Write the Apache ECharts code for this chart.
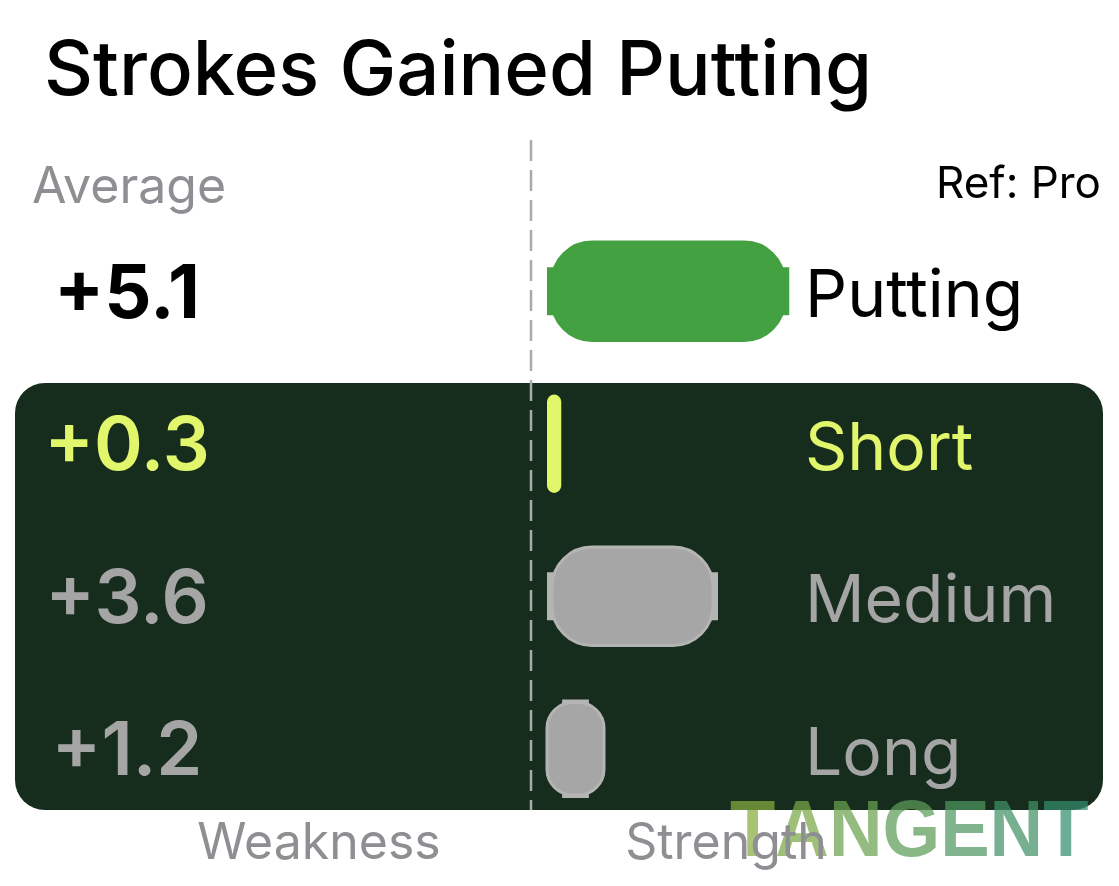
<!DOCTYPE html>
<html>
<head>
<meta charset="utf-8">
<script src="https://cdn.jsdelivr.net/npm/echarts@6/dist/echarts.min.js"></script>
<style>
  html, body { margin: 0; padding: 0; background: #fff; }
  #main { width: 1119px; height: 886px; }
</style>
</head>
<body>
<div id="main"></div>
<script>
const categories = ["Putting", "Short", "Medium", "Long"];
const values = [5.1, 0.3, 3.6, 1.2];
const valueLabels = ["+5.1", "+0.3", "+3.6", "+1.2"];
const barColors = ["#43a142", "#e1f66b", "#a6a6a6", "#a6a6a6"];
const textColors = ["#000000", "#e1f66b", "#a5a5a5", "#a5a5a5"];

const FONT = "Inter, 'Noto Sans', sans-serif";

var chartDom = document.getElementById("main");
var myChart = echarts.init(chartDom);

// rich styles for per-row label colours
const leftRich = {};
const rightRich = {};
categories.forEach((c, i) => {
  leftRich["v" + i] = {
    color: textColors[i],
    fontSize: 74,
    fontWeight: i === 0 ? 700 : 600,
    fontFamily: FONT,
    padding: [8, 0, 0, 0],
  };
  rightRich["c" + i] = {
    color: textColors[i],
    fontSize: 66,
    fontWeight: 400,
    fontFamily: FONT,
    padding: [12, 0, 0, 0],
  };
});

function renderBar(params, api) {
  const v = api.value(0);
  const cat = api.value(1);
  const p0 = api.coord([0, cat]);
  const p1 = api.coord([v, cat]);
  const h = api.size([0, 1])[1] * 0.645;
  const x0 = p0[0];
  const w = p1[0] - x0;
  const cy = p0[1];
  const y0 = cy - h / 2;
  const idx = params.dataIndex;
  const fill = barColors[idx];
  const stroke = idx >= 2 ? "#b4b4b4" : fill;
  const children = [];

  if (w < 30) {
    children.push({
      type: "rect",
      shape: { x: x0, y: y0, width: w, height: h, r: w / 2 },
      style: { fill: fill },
    });
  } else if (w > h) {
    // wide pill with flat side tabs
    children.push({
      type: "rect",
      shape: { x: x0, y: cy - h * 0.245, width: w, height: h * 0.49 },
      style: { fill: stroke },
    });
    children.push({
      type: "rect",
      shape: { x: x0 + 5, y: y0, width: w - 10, height: h, r: 40 },
      style: { fill: fill, stroke: stroke, lineWidth: 3 },
    });
  } else {
    // tall pill with flat top/bottom tabs
    children.push({
      type: "rect",
      shape: { x: x0 + w * 0.265, y: y0, width: w * 0.47, height: h },
      style: { fill: stroke },
    });
    children.push({
      type: "rect",
      shape: { x: x0, y: y0 + 3, width: w, height: h - 6, r: w * 0.45 },
      style: { fill: fill, stroke: stroke, lineWidth: 3 },
    });
  }
  return { type: "group", children: children };
}

// watermark letters, coloured along a green-to-teal ramp
const markText = "TANGENT";
const markFrom = [140, 174, 60];
const markTo = [47, 140, 112];
const markFont = "700 80px 'Liberation Sans', Arial, sans-serif";
const markCtx = document.createElement("canvas").getContext("2d");
markCtx.font = markFont;
const markTotal = markCtx.measureText(markText).width;
const markLetters = [];
let markX = 0;
for (const ch of markText) {
  const cw = markCtx.measureText(ch).width;
  const t = (markX + cw / 2) / markTotal;
  const c = markFrom.map((a, k) => Math.round(a + (markTo[k] - a) * t));
  markLetters.push({
    type: "text",
    x: markX,
    y: 0,
    style: {
      text: ch,
      font: markFont,
      fill: `rgb(${c[0]},${c[1]},${c[2]})`,
      opacity: 0.72,
      verticalAlign: "top",
    },
  });
  markX += cw;
}

var option = {
  backgroundColor: "#ffffff",
  animation: false,
  title: {
    text: "Strokes Gained Putting",
    left: 39,
    top: 29,
    textStyle: {
      fontSize: 76,
      fontWeight: 500,
      color: "#000",
      fontFamily: FONT,
    },
  },
  grid: {
    left: 547,
    right: 1119 - 547 - 5.2 * 47.5,
    top: 215,
    bottom: 61,
  },
  xAxis: {
    type: "value",
    min: 0,
    max: 5.2,
    show: false,
  },
  yAxis: [
    {
      type: "category",
      data: valueLabels,
      inverse: true,
      position: "left",
      axisLine: { show: false },
      axisTick: { show: false },
      splitLine: { show: false },
      axisLabel: {
        margin: 420,
        align: "center",
        formatter: (val, i) => `{v${i}|${val}}`,
        rich: leftRich,
      },
    },
    {
      type: "category",
      data: categories,
      inverse: true,
      position: "right",
      axisLine: { show: false },
      axisTick: { show: false },
      splitLine: { show: false },
      axisLabel: {
        margin: 11,
        align: "left",
        formatter: (val, i) => `{c${i}|${val}}`,
        rich: rightRich,
      },
    },
  ],
  graphic: [
    {
      type: "rect",
      z: 0,
      shape: { x: 15, y: 383, width: 1088, height: 427, r: 30 },
      style: { fill: "#162d1e" },
    },
    {
      type: "line",
      z: 1,
      shape: { x1: 531, y1: 140, x2: 531, y2: 810 },
      style: { stroke: "#aaaaaa", lineWidth: 2.5, lineDash: [21, 9] },
    },
    {
      type: "text",
      z: 3,
      x: 32,
      y: 163,
      style: {
        text: "Average",
        fill: "#8e8e93",
        font: "400 50px " + FONT,
        verticalAlign: "top",
      },
    },
    {
      type: "text",
      z: 3,
      x: 1101,
      y: 163,
      style: {
        text: "Ref: Pro",
        fill: "#000",
        font: "400 44px " + FONT,
        align: "right",
        verticalAlign: "top",
      },
    },
    {
      type: "text",
      z: 3,
      x: 319,
      y: 819,
      style: {
        text: "Weakness",
        fill: "#8e8e93",
        font: "400 50px " + FONT,
        align: "center",
        verticalAlign: "top",
      },
    },
    {
      type: "text",
      z: 3,
      x: 726,
      y: 819,
      style: {
        text: "Strength",
        fill: "#8e8e93",
        font: "400 50px " + FONT,
        align: "center",
        verticalAlign: "top",
      },
    },
    {
      type: "group",
      z: 10,
      x: 730,
      y: 794,
      scaleX: 353 / markTotal,
      children: markLetters,
    },
  ],
  series: [
    {
      type: "custom",
      z: 2,
      renderItem: renderBar,
      encode: { x: 0, y: 1 },
      data: values.map((v, i) => [v, i]),
    },
  ],
};

option && myChart.setOption(option);
</script>
</body>
</html>
